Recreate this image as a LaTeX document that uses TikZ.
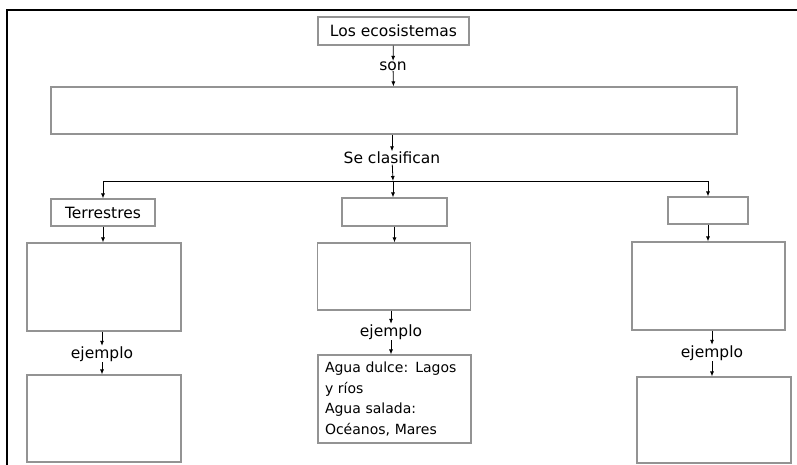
\documentclass[tikz,border=0pt]{standalone}
\usepackage{fontspec}
\setmainfont{DejaVu Sans}
\usetikzlibrary{positioning,arrows.meta}

\tikzset{
  caja/.style={draw=gray!85, line width=1.1pt, rectangle, inner sep=0pt,
    font=\fontsize{15.5}{20.5}\selectfont},
  flecha/.style={-{Latex[length=5pt,width=4pt]}, line width=0.8pt},
  etiqueta/.style={inner sep=0.5pt, font=\fontsize{15.5}{19}\selectfont},
}

\begin{document}
\begin{tikzpicture}[x=1pt,y=-1pt]
  \useasboundingbox (0,0) rectangle (797,465);
  % marco
  \draw[line width=2.5pt] (7,465) -- (7,10) -- (797,10);

  % arriba
  \node[caja, minimum width=151pt, minimum height=28pt] (eco) at (393.5,31) {Los ecosistemas};
  \node[etiqueta] (son) at (393,66) {son};
  \node[caja, minimum width=686pt, minimum height=47pt] (def) at (394,110.5) {};
  \node[etiqueta] (clas) at (392,158) {Se clasifican};
  \coordinate (cruce) at (393,181);

  \draw[flecha] (eco) -- (son);
  \draw[flecha] (son) -- (def);
  \draw[flecha] (def.south -| clas) -- (clas);
  \draw[flecha] (clas) -- (cruce);

  % tipos
  \node[caja, minimum width=104pt, minimum height=27pt] (terr) at (103,212.5) {Terrestres};
  \node[caja, minimum width=105pt, minimum height=28pt] (acu) at (394.5,212) {};
  \node[caja, minimum width=80pt, minimum height=27pt] (aer) at (708,210.5) {};

  \draw[flecha] (cruce) -- (cruce |- acu.north);
  \draw[flecha] (cruce) -| (terr.north);
  \draw[flecha] (cruce) -| (aer.north);

  % columna izquierda
  \node[caja, minimum width=154pt, minimum height=88pt] (lmid) at (104,287) {};
  \node[etiqueta] (ej1) at (102,354) {ejemplo};
  \node[caja, minimum width=154pt, minimum height=87pt] (lbot) at (104,418.5) {};
  \draw[flecha] (terr.south) -- (terr.south |- lmid.north);
  \draw[flecha] (lmid.south -| ej1) -- (ej1);
  \draw[flecha] (ej1) -- (ej1 |- lbot.north);

  % columna central
  \node[caja, minimum width=153pt, minimum height=67pt] (mmid) at (394,276.5) {};
  \node[etiqueta] (ej2) at (391,332) {ejemplo};
  \node[caja, minimum width=153pt, minimum height=88pt, inner xsep=7pt, text width=139pt, align=left,
    font=\fontsize{14}{20.5}\selectfont] (mbot) at (394.5,399)
    {Agua dulce: Lagos\\y ríos\\Agua salada:\\Océanos, Mares};
  \draw[flecha] (acu.south) -- (acu.south |- mmid.north);
  \draw[flecha] (mmid.south -| ej2) -- (ej2);
  \draw[flecha] (ej2) -- (ej2 |- mbot.north);

  % columna derecha
  \node[caja, minimum width=153pt, minimum height=88pt] (rmid) at (708.5,286) {};
  \node[etiqueta] (ej3) at (712,353) {ejemplo};
  \node[caja, minimum width=154pt, minimum height=86pt] (rbot) at (714,420) {};
  \draw[flecha] (aer.south) -- (aer.south |- rmid.north);
  \draw[flecha] (rmid.south -| ej3) -- (ej3);
  \draw[flecha] (ej3) -- (ej3 |- rbot.north);
\end{tikzpicture}
\end{document}
